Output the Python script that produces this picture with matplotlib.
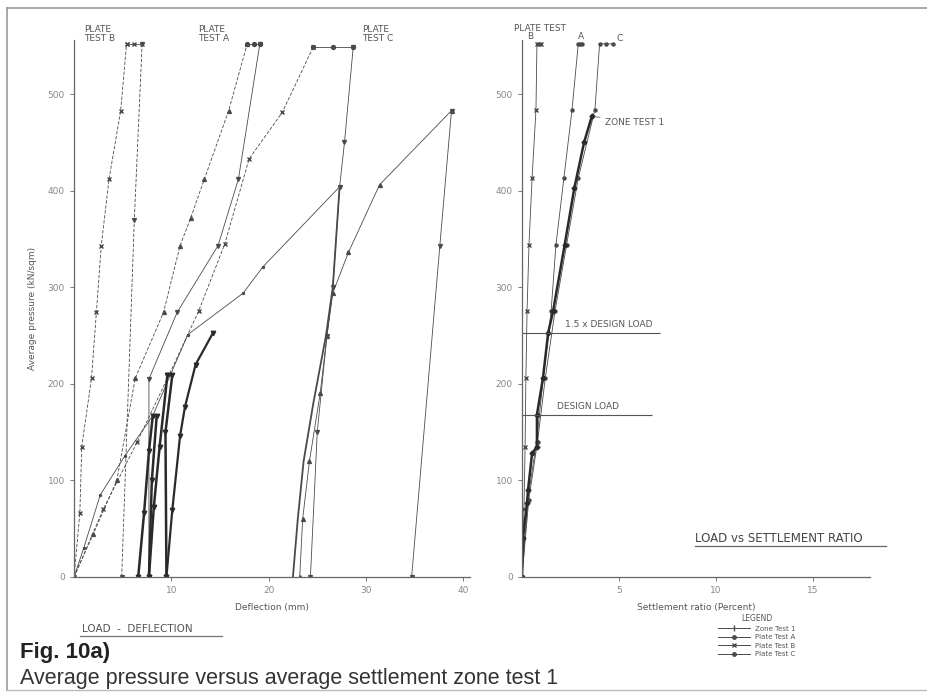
import matplotlib
matplotlib.use('Agg')
import matplotlib.pyplot as plt
from matplotlib.lines import Line2D

# ---------------- data: load - deflection (mm, kN/sqm) ----------------
plate_b_load_x = [0, 0.6, 0.8, 1.8, 2.3, 2.8, 3.6, 4.8, 5.4]
plate_b_load_p = [0, 66, 135, 206, 274, 343, 412, 483, 552]
plate_b_hold_x = [5.4, 6.2, 7.0]
plate_b_hold_p = [552, 552, 552]
plate_b_unload_x = [7.0, 6.2, 4.9]
plate_b_unload_p = [552, 370, 0]

plate_a_load_x = [0, 2.0, 4.4, 6.3, 9.2, 10.9, 12.0, 13.4, 15.9, 17.8]
plate_a_load_p = [0, 45, 100, 206, 274, 343, 372, 412, 483, 552]
plate_a_hold_x = [17.8, 18.5, 19.1]
plate_a_hold_p = [552, 552, 552]
plate_a_unload_x = [19.1, 16.9, 14.8, 10.6, 7.7, 7.7]
plate_a_unload_p = [552, 412, 343, 274, 205, 0]

plate_c_load_x = [0, 3.0, 6.5, 9.8, 12.8, 15.5, 18.0, 21.4, 24.6]
plate_c_load_p = [0, 70, 140, 210, 275, 345, 433, 481, 549]
plate_c_hold_x = [24.6, 26.6, 28.7]
plate_c_hold_p = [549, 549, 549]
plate_c_unload_x = [28.7, 27.8, 27.3, 26.6, 26.0, 25.0, 24.3]
plate_c_unload_p = [549, 450, 404, 300, 250, 150, 0]

zone_load_x = [0, 1.0, 2.7, 5.2, 8.1, 11.7, 17.4, 19.4, 27.3]
zone_load_p = [0, 30, 85, 125, 167, 251, 294, 321, 404]
zone_unload1_x = [27.3, 26.6, 25.9, 24.6, 23.6, 23.0, 22.5]
zone_unload1_p = [404, 300, 250, 180, 120, 60, 0]
zone_reload_x = [23.2, 23.5, 24.2, 25.3, 26.0, 26.6, 28.2, 31.4, 38.8]
zone_reload_p = [0, 60, 120, 190, 250, 294, 336, 406, 483]
zone_unload2_x = [38.8, 37.6, 34.7]
zone_unload2_p = [483, 343, 0]

cycle1_x = [6.6, 7.2, 7.7, 8.1, 8.5, 8.0, 7.7]
cycle1_p = [0, 66, 130, 167, 167, 100, 0]
cycle2_x = [7.7, 8.2, 8.8, 9.6, 10.1, 9.4, 9.5]
cycle2_p = [0, 72, 135, 209, 209, 150, 0]
cycle3_x = [9.5, 10.1, 10.9, 11.4, 12.5, 14.3]
cycle3_p = [0, 69, 146, 176, 220, 253]

# ---------------- data: load - settlement ratio (%, kN/sqm) ----------------
ratio_b_x = [0, 0.1, 0.16, 0.2, 0.26, 0.36, 0.52, 0.72, 0.77, 0.9, 1.0]
ratio_b_p = [0, 70, 135, 206, 275, 344, 413, 484, 552, 552, 552]
ratio_a_x = [0, 0.3, 0.75, 1.1, 1.5, 1.75, 2.16, 2.58, 2.9, 3.0, 3.1]
ratio_a_p = [0, 80, 140, 206, 275, 344, 413, 484, 552, 552, 552]
ratio_c_x = [0, 0.35, 0.8, 1.2, 1.7, 2.3, 2.9, 3.76, 4.0, 4.35, 4.7]
ratio_c_p = [0, 80, 140, 206, 275, 344, 413, 484, 552, 552, 552]
ratio_zone_x = [0, 0.05, 0.26, 0.31, 0.52, 0.77, 0.77, 1.08, 1.35, 1.6, 2.2, 2.7, 3.2, 3.6]
ratio_zone_p = [0, 40, 77, 90, 128, 135, 168, 206, 253, 275, 344, 403, 450, 477]

design_load = 168
design_load_15 = 253

INK = '#4a4a4a'
TXT = '#555555'

fig = plt.figure(figsize=(9.28, 6.98), dpi=100)
fig.patch.set_facecolor('white')

# page border of the scan
fig.add_artist(Line2D([7/928, 7/928], [1-8/698, 1-690/698], color='#999999', lw=1.2))
fig.add_artist(Line2D([7/928, 1], [1-8/698, 1-8/698], color='#999999', lw=1.2))
fig.add_artist(Line2D([7/928, 1], [1-690/698, 1-690/698], color='#bbbbbb', lw=1.0))


def style_axes(ax):
    for s in ['top', 'right']:
        ax.spines[s].set_visible(False)
    for s in ['left', 'bottom']:
        ax.spines[s].set_color('#666666')
        ax.spines[s].set_linewidth(0.9)
    ax.tick_params(colors='#777777', labelcolor='#888888', labelsize=6.5, length=3, width=0.7)


# ---------------- left: load - deflection ----------------
ax1 = fig.add_axes([74/928, 1-577/698, 396/928, 537/698])
style_axes(ax1)
ax1.set_xlim(0, 40.7)
ax1.set_ylim(0, 556)
ax1.set_xticks([10, 20, 30, 40])
ax1.set_yticks([0, 100, 200, 300, 400, 500])

dash = dict(color=INK, lw=0.6, ls=(0, (4, 2)), ms=2.8)
solid = dict(color=INK, lw=0.6, ms=2.8)

ax1.plot(plate_b_load_x, plate_b_load_p, marker='x', **dash)
ax1.plot(plate_b_hold_x, plate_b_hold_p, marker='x', **solid)
ax1.plot(plate_b_unload_x, plate_b_unload_p, marker='v', **dash)

ax1.plot(plate_a_load_x, plate_a_load_p, marker='^', **dash)
ax1.plot(plate_a_hold_x, plate_a_hold_p, marker='o', **solid)
ax1.plot(plate_a_unload_x, plate_a_unload_p, marker='v', **solid)

ax1.plot(plate_c_load_x, plate_c_load_p, marker='x', **dash)
ax1.plot(plate_c_hold_x, plate_c_hold_p, marker='o', **solid)
ax1.plot(plate_c_unload_x, plate_c_unload_p, marker='v', **solid)

ax1.plot(zone_load_x, zone_load_p, marker='.', **solid)
ax1.plot(zone_unload1_x, zone_unload1_p, color=INK, lw=1.3)
ax1.plot(zone_reload_x, zone_reload_p, marker='^', **solid)
ax1.plot(zone_unload2_x, zone_unload2_p, marker='v', **solid)

ax1.plot(cycle1_x, cycle1_p, color='#2a2a2a', lw=1.8, marker='v', ms=3.2)
ax1.plot(cycle2_x, cycle2_p, color='#2a2a2a', lw=1.8, marker='v', ms=3.2)
ax1.plot(cycle3_x, cycle3_p, color='#2a2a2a', lw=1.6, marker='v', ms=3.2)

ax1.set_xlabel('Deflection (mm)', fontsize=6.5, color=TXT, labelpad=6)
ax1.set_ylabel('Average pressure (kN/sqm)', fontsize=6.5, color=TXT, labelpad=8)

ax1.text(1.0, 553, 'PLATE\nTEST B', fontsize=6.5, color=TXT, va='bottom', linespacing=1.0)
ax1.text(12.8, 553, 'PLATE\nTEST A', fontsize=6.5, color=TXT, va='bottom', linespacing=1.0)
ax1.text(29.6, 553, 'PLATE\nTEST C', fontsize=6.5, color=TXT, va='bottom', linespacing=1.0)

fig.text(82/928, 1-632/698, 'LOAD  -  DEFLECTION', fontsize=7.5, color=TXT)
fig.add_artist(Line2D([80/928, 222/928], [1-636/698, 1-636/698], color='#777777', lw=0.9))

# ---------------- right: load - settlement ratio ----------------
ax2 = fig.add_axes([522/928, 1-577/698, 348/928, 537/698])
style_axes(ax2)
ax2.set_xlim(0, 17.94)
ax2.set_ylim(0, 556)
ax2.set_xticks([5, 10, 15])
ax2.set_yticks([0, 100, 200, 300, 400, 500])

ax2.plot(ratio_b_x, ratio_b_p, marker='x', color=INK, lw=0.6, ms=2.8)
ax2.plot(ratio_a_x, ratio_a_p, marker='o', color=INK, lw=0.6, ms=2.2)
ax2.plot(ratio_c_x, ratio_c_p, marker='o', color=INK, lw=0.6, ms=2.2)
ax2.plot(ratio_zone_x, ratio_zone_p, marker='D', color='#2a2a2a', lw=1.8, ms=2.5)

ax2.hlines(design_load_15, 0, 7.1, color='#555555', lw=0.8)
ax2.hlines(design_load, 0, 6.7, color='#555555', lw=0.8)
ax2.text(2.2, design_load_15 + 4, '1.5 x DESIGN LOAD', fontsize=6.5, color=TXT, va='bottom')
ax2.text(1.8, design_load + 4, 'DESIGN LOAD', fontsize=6.5, color=TXT, va='bottom')

ax2.text(-0.4, 568, 'PLATE TEST', fontsize=6.5, color=TXT, va='center', clip_on=False)
ax2.text(0.25, 560, 'B', fontsize=6.5, color=TXT, va='center', clip_on=False)
ax2.text(2.9, 560, 'A', fontsize=6.5, color=TXT, va='center', clip_on=False)
ax2.text(4.85, 558, 'C', fontsize=6.5, color=TXT, va='center', clip_on=False)

ax2.annotate('ZONE TEST 1', xy=(ratio_zone_x[-1], ratio_zone_p[-1]), xytext=(4.3, 471),
             fontsize=6.5, color=TXT, va='center',
             arrowprops=dict(arrowstyle='-', color='#666666', lw=0.6))

ax2.set_xlabel('Settlement ratio (Percent)', fontsize=6.5, color=TXT, labelpad=6)

fig.text(695/928, 1-542/698, 'LOAD vs SETTLEMENT RATIO', fontsize=8.5, color='#444444')
fig.add_artist(Line2D([695/928, 886/928], [1-546/698, 1-546/698], color='#666666', lw=0.9))

# legend
handles = [Line2D([], [], color=INK, lw=0.7, marker='|', ms=4),
           Line2D([], [], color=INK, lw=0.7, marker='o', ms=2.5),
           Line2D([], [], color=INK, lw=0.7, marker='x', ms=3),
           Line2D([], [], color=INK, lw=0.7, marker='o', ms=2.5)]
labels = ['Zone Test 1', 'Plate Test A', 'Plate Test B', 'Plate Test C']
leg = fig.legend(handles, labels, loc='upper left', bbox_to_anchor=(712/928, 1-608/698),
                 frameon=False, fontsize=5, handlelength=4.5, labelspacing=0.35,
                 title='LEGEND', title_fontsize=5.5, labelcolor=TXT)
leg.get_title().set_color(TXT)

# caption
fig.text(20/928, 1-658/698, 'Fig. 10a)', fontsize=16, fontweight='bold', color='#222222',
         family=['Liberation Sans', 'DejaVu Sans'])
fig.text(20/928, 1-684/698, 'Average pressure versus average settlement zone test 1', fontsize=15.5,
         color='#333333', family=['Liberation Sans', 'DejaVu Sans'])

fig.savefig('out.png', dpi=100, facecolor='white')
